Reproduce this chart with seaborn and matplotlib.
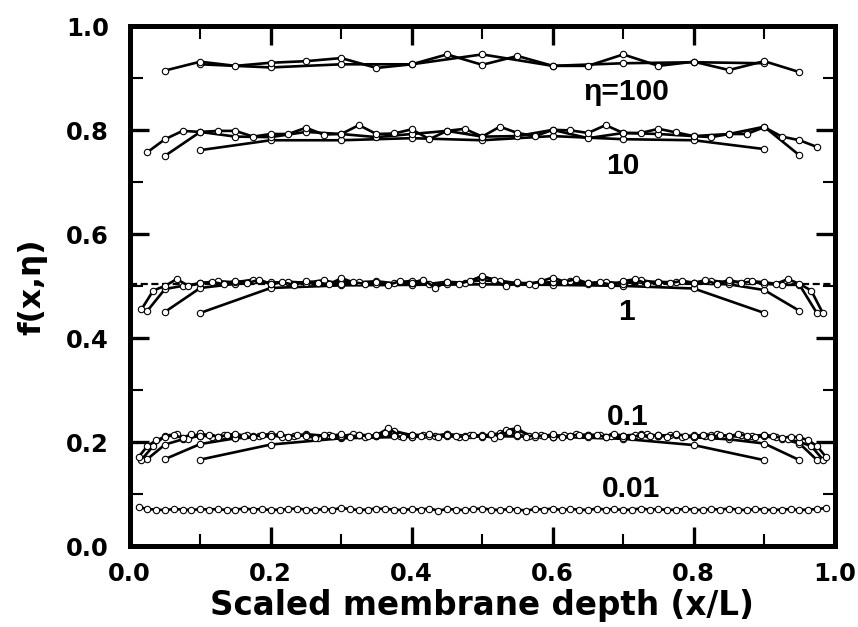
import numpy as np
import pandas as pd
import seaborn as sns
import matplotlib.pyplot as plt
from matplotlib.ticker import MultipleLocator

# grid sizes N: points sit at x = k/N, k = 1..N-1
# eta = 100
eta100_n10 = [0.927, 0.921, 0.927, 0.927, 0.946, 0.924, 0.929, 0.931, 0.929]
eta100_n20 = [0.915, 0.932, 0.924, 0.930, 0.933, 0.939, 0.920, 0.927, 0.946, 0.926,
              0.943, 0.924, 0.924, 0.946, 0.924, 0.932, 0.916, 0.933, 0.912]

# eta = 10
eta10_n10 = [0.762, 0.781, 0.781, 0.785, 0.781, 0.789, 0.783, 0.781, 0.764]
eta10_n20 = [0.751, 0.797, 0.788, 0.787, 0.797, 0.793, 0.787, 0.793, 0.799, 0.788,
             0.789, 0.801, 0.785, 0.795, 0.793, 0.789, 0.793, 0.807, 0.752]
eta10_n40 = [0.758, 0.783, 0.799, 0.797, 0.799, 0.799, 0.788, 0.793, 0.793, 0.805,
             0.792, 0.793, 0.810, 0.793, 0.794, 0.802, 0.783, 0.799, 0.803, 0.788,
             0.807, 0.795, 0.789, 0.801, 0.800, 0.795, 0.810, 0.795, 0.795, 0.803,
             0.796, 0.789, 0.787, 0.793, 0.793, 0.806, 0.788, 0.781, 0.768]

# eta = 1
eta1_n10 = [0.449, 0.497, 0.502, 0.503, 0.504, 0.503, 0.501, 0.496, 0.449]
eta1_n20 = [0.451, 0.497, 0.505, 0.508, 0.506, 0.509, 0.505, 0.507, 0.504, 0.512,
            0.506, 0.508, 0.505, 0.507, 0.509, 0.506, 0.504, 0.493, 0.453]
eta1_n40 = [0.453, 0.495, 0.501, 0.506, 0.510, 0.508, 0.513, 0.505, 0.509, 0.507,
            0.512, 0.504, 0.508, 0.510, 0.506, 0.511, 0.505, 0.509, 0.507, 0.519,
            0.511, 0.506, 0.503, 0.508, 0.510, 0.506, 0.509, 0.505, 0.512, 0.507,
            0.509, 0.506, 0.511, 0.508, 0.510, 0.505, 0.503, 0.503, 0.448]
eta1_n60 = [0.456, 0.492, 0.501, 0.514, 0.501, 0.506, 0.509, 0.504, 0.511, 0.506,
            0.513, 0.505, 0.508, 0.503, 0.510, 0.507, 0.504, 0.516, 0.508, 0.505,
            0.509, 0.503, 0.510, 0.507, 0.513, 0.497, 0.509, 0.505, 0.511, 0.520,
            0.512, 0.500, 0.508, 0.504, 0.510, 0.517, 0.509, 0.514, 0.506, 0.508,
            0.503, 0.510, 0.514, 0.505, 0.509, 0.506, 0.511, 0.507, 0.512, 0.504,
            0.513, 0.506, 0.510, 0.508, 0.505, 0.514, 0.505, 0.492, 0.448]

# eta = 0.1
eta01_n10 = [0.167, 0.196, 0.208, 0.211, 0.212, 0.211, 0.207, 0.195, 0.166]
eta01_n20 = [0.168, 0.197, 0.208, 0.212, 0.214, 0.211, 0.213, 0.215, 0.212, 0.214,
             0.213, 0.211, 0.215, 0.212, 0.214, 0.210, 0.206, 0.198, 0.166]
eta01_n40 = [0.168, 0.196, 0.206, 0.213, 0.211, 0.215, 0.212, 0.214, 0.210, 0.216,
             0.213, 0.211, 0.215, 0.212, 0.222, 0.214, 0.212, 0.216, 0.213, 0.211,
             0.218, 0.224, 0.210, 0.214, 0.212, 0.215, 0.211, 0.213, 0.216, 0.212,
             0.214, 0.211, 0.215, 0.213, 0.210, 0.212, 0.207, 0.198, 0.166]
eta01_n60 = [0.167, 0.193, 0.213, 0.216, 0.206, 0.218, 0.211, 0.214, 0.209, 0.215,
             0.212, 0.217, 0.210, 0.213, 0.215, 0.209, 0.214, 0.212, 0.216, 0.211,
             0.214, 0.227, 0.213, 0.210, 0.215, 0.212, 0.216, 0.211, 0.214, 0.213,
             0.209, 0.224, 0.227, 0.212, 0.215, 0.210, 0.214, 0.216, 0.211, 0.215,
             0.213, 0.209, 0.214, 0.217, 0.212, 0.215, 0.210, 0.214, 0.212, 0.216,
             0.211, 0.214, 0.212, 0.215, 0.210, 0.206, 0.201, 0.193, 0.167]
eta01_n80 = [0.172, 0.193, 0.204, 0.211, 0.214, 0.209, 0.216, 0.212, 0.215, 0.211,
             0.214, 0.217, 0.212, 0.210, 0.215, 0.213, 0.216, 0.211, 0.214, 0.212,
             0.209, 0.215, 0.213, 0.216, 0.211, 0.214, 0.212, 0.215, 0.219, 0.213,
             0.210, 0.214, 0.212, 0.216, 0.211, 0.215, 0.213, 0.210, 0.214, 0.212,
             0.216, 0.213, 0.221, 0.215, 0.211, 0.214, 0.212, 0.216, 0.210, 0.213,
             0.215, 0.212, 0.214, 0.211, 0.216, 0.213, 0.210, 0.215, 0.212, 0.214,
             0.211, 0.216, 0.213, 0.212, 0.215, 0.211, 0.214, 0.212, 0.216, 0.213,
             0.210, 0.214, 0.212, 0.209, 0.211, 0.210, 0.204, 0.193, 0.172]

# eta = 0.01
eta001_n80 = [0.076, 0.072, 0.071, 0.070, 0.072, 0.071, 0.070, 0.072, 0.071, 0.072,
              0.070, 0.071, 0.073, 0.071, 0.072, 0.070, 0.071, 0.072, 0.073, 0.071,
              0.070, 0.072, 0.071, 0.074, 0.072, 0.070, 0.071, 0.073, 0.072, 0.071,
              0.070, 0.072, 0.071, 0.073, 0.069, 0.072, 0.071, 0.070, 0.072, 0.073,
              0.071, 0.070, 0.072, 0.071, 0.069, 0.072, 0.071, 0.073, 0.070, 0.072,
              0.071, 0.070, 0.073, 0.071, 0.072, 0.070, 0.071, 0.073, 0.071, 0.072,
              0.070, 0.071, 0.072, 0.071, 0.070, 0.072, 0.071, 0.073, 0.071, 0.070,
              0.072, 0.071, 0.070, 0.071, 0.072, 0.070, 0.071, 0.072, 0.074]

curves = [
    ("100", 10, eta100_n10), ("100", 20, eta100_n20),
    ("10", 10, eta10_n10), ("10", 20, eta10_n20), ("10", 40, eta10_n40),
    ("1", 10, eta1_n10), ("1", 20, eta1_n20), ("1", 40, eta1_n40), ("1", 60, eta1_n60),
    ("0.1", 10, eta01_n10), ("0.1", 20, eta01_n20), ("0.1", 40, eta01_n40),
    ("0.1", 60, eta01_n60), ("0.1", 80, eta01_n80),
    ("0.01", 80, eta001_n80),
]

# labels next to each family: (text, x, baseline y)
eta_labels = [("\u03b7=100", 0.704, 0.858), ("10", 0.700, 0.717), ("1", 0.705, 0.435),
              ("0.1", 0.706, 0.233), ("0.01", 0.711, 0.095)]
f_half = 0.504

rows = []
for eta, n, vals in curves:
    xs = np.arange(1, n) / n
    for xv, fv in zip(xs, vals):
        rows.append({"x": xv, "f": fv, "curve": eta + "_" + str(n)})
df = pd.DataFrame(rows)

sns.set_theme(style="ticks")
plt.rcParams["font.family"] = ["DejaVu Sans"]
plt.rcParams["font.weight"] = "bold"
plt.rcParams["text.color"] = "black"
plt.rcParams["axes.labelcolor"] = "black"
plt.rcParams["xtick.color"] = "black"
plt.rcParams["ytick.color"] = "black"

fig = plt.figure(figsize=(8.58, 6.27), dpi=100)
ax = fig.add_axes([0.1512, 0.1284, 0.8217, 0.8296])

ax.axhline(f_half, color="black", lw=1.6, ls=(0, (3.2, 1.6)), zorder=1)

sns.lineplot(data=df, x="x", y="f", units="curve", estimator=None, ax=ax,
             color="black", linewidth=1.9, marker="o", markersize=4.6,
             markerfacecolor="white", markeredgecolor="black",
             markeredgewidth=0.8, zorder=3)

ax.set_xlim(0, 1)
ax.set_ylim(0, 1)
ax.xaxis.set_major_locator(MultipleLocator(0.2))
ax.xaxis.set_minor_locator(MultipleLocator(0.1))
ax.yaxis.set_major_locator(MultipleLocator(0.2))
ax.yaxis.set_minor_locator(MultipleLocator(0.1))
ax.tick_params(which="both", direction="in", top=True, right=True, color="black",
               labelcolor="black")
ax.tick_params(which="major", length=14, width=2.4)
ax.tick_params(which="minor", length=9, width=1.5)
ax.tick_params(axis="x", which="major", pad=11)
ax.tick_params(axis="y", which="major", pad=15)
for lab in ax.get_xticklabels() + ax.get_yticklabels():
    lab.set_fontsize(17.5)
    lab.set_fontweight("bold")
for sp in ax.spines.values():
    sp.set_linewidth(3.6)
    sp.set_color("black")

ax.set_xlabel("Scaled membrane depth (x/L)", fontsize=23.5, fontweight="bold",
              color="black")
ax.set_ylabel("f(x,\u03b7)", fontsize=22.5, fontweight="bold", color="black")
ax.xaxis.set_label_coords(0.5, -0.082)
ax.yaxis.set_label_coords(-0.117, 0.5)

for txt, xv, yv in eta_labels:
    ax.text(xv, yv, txt, ha="center", va="baseline", fontsize=21.6, color="black",
            fontweight="bold", family=["Liberation Sans", "DejaVu Sans"])

fig.savefig("out.png", dpi=100)
